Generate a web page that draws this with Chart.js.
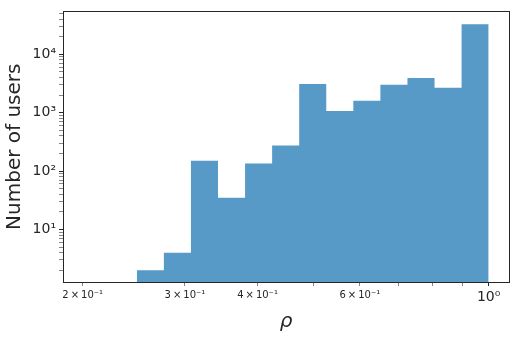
<!DOCTYPE html>
<html lang="en">
<head>
<meta charset="UTF-8">
<title>Number of users by rho</title>
<script src="https://cdn.jsdelivr.net/npm/chart.js@4.4.0/dist/chart.umd.min.js"></script>
<style>
  html, body { margin: 0; padding: 0; background: #fff; }
  canvas { display: block; }
</style>
</head>
<body>
<canvas id="myChart" width="519" height="338"></canvas>
<script>
  // bin edges (log spaced), one more than the counts
  const binEdges = [0.24787, 0.27595, 0.30720, 0.34200, 0.38074, 0.42386, 0.47187,
                    0.52532, 0.58482, 0.65105, 0.72480, 0.80689, 0.89829, 1.0];
  const userCounts = [2, 4, 150, 35, 134, 273, 3100, 1070, 1590, 2990, 3930, 2660, 32700];

  const xTickValues = [0.2, 0.3, 0.4, 0.5, 0.6, 0.7, 0.8, 0.9, 1.0];
  const xTickLabels = { 0.2: '2\u2009×\u200910⁻¹', 0.3: '3\u2009×\u200910⁻¹', 0.4: '4\u2009×\u200910⁻¹', 0.6: '6\u2009×\u200910⁻¹', 1: '10⁰' };
  const yMajorValues = [10, 100, 1000, 10000];
  const yMajorLabels = ['10¹', '10²', '10³', '10⁴'];

  const ink = '#262626';
  const barColor = 'rgb(87,153,199)';

  // step outline: point i at the left edge of bin i, last point closes the last bin
  const points = userCounts.map((c, i) => ({ x: binEdges[i], y: c }));
  points.push({ x: binEdges[binEdges.length - 1], y: userCounts[userCounts.length - 1] });

  // minor ticks 2..9 in each decade shown
  const yTickValues = [];
  [1, 10, 100, 1000, 10000].forEach(d => {
    for (let m = 1; m <= 9; m++) {
      const v = m * d;
      if (v >= 1.3 && v <= 54000) yTickValues.push(v);
    }
  });

  const isMajor = v => Math.abs(Math.log10(v) - Math.round(Math.log10(v))) < 1e-9;

  const framePlugin = {
    id: 'frame',
    afterDraw(chart) {
      const a = chart.chartArea, c = chart.ctx;
      c.save();
      c.strokeStyle = ink;
      c.lineWidth = 1;
      c.strokeRect(Math.round(a.left) + 0.5, Math.round(a.top) + 0.5,
                   Math.round(a.right - a.left), Math.round(a.bottom - a.top));
      c.restore();
    }
  };

  const ctx = document.getElementById('myChart').getContext('2d');
  new Chart(ctx, {
    type: 'line',
    data: {
      datasets: [{
        data: points,
        stepped: 'before',
        fill: 'start',
        backgroundColor: barColor,
        borderColor: barColor,
        borderWidth: 0,
        pointRadius: 0,
        tension: 0
      }]
    },
    options: {
      responsive: false,
      animation: false,
      layout: { padding: { top: 10, right: 10, left: 0, bottom: 0 } },
      plugins: { legend: { display: false }, tooltip: { enabled: false } },
      scales: {
        x: {
          type: 'logarithmic',
          min: 0.185,
          max: 1.084,
          afterBuildTicks: axis => { axis.ticks = xTickValues.map(v => ({ value: v })); },
          afterFit: s => { s.height = 56; },
          border: { display: false },
          grid: {
            drawOnChartArea: false,
            drawTicks: true,
            tickLength: 4,
            tickColor: c => isMajor(c.tick.value) ? ink : '#666',
            tickWidth: c => isMajor(c.tick.value) ? 1 : 0.8
          },
          ticks: {
            autoSkip: false,
            maxRotation: 0,
            padding: 3,
            color: ink,
            font: c => ({ family: 'DejaVu Sans', size: (c.tick && c.tick.value === 1) ? 14 : 10 }),
            callback: v => {
              const k = Math.round(v * 10) / 10;
              return (Math.abs(v - k) < 1e-9 && xTickLabels[k]) ? xTickLabels[k] : '';
            }
          },
          title: {
            display: true,
            text: 'ρ',
            color: ink,
            font: { family: 'DejaVu Sans', size: 20, style: 'italic' },
            padding: { top: 0, bottom: 4 }
          }
        },
        y: {
          type: 'logarithmic',
          min: 1.26,
          max: 54000,
          afterBuildTicks: axis => { axis.ticks = yTickValues.map(v => ({ value: v })); },
          afterFit: s => { s.width = 63; },
          border: { display: false },
          grid: {
            drawOnChartArea: false,
            drawTicks: true,
            tickLength: 4,
            tickColor: c => isMajor(c.tick.value) ? ink : '#666',
            tickWidth: c => isMajor(c.tick.value) ? 1 : 0.8
          },
          ticks: {
            autoSkip: false,
            padding: 3,
            color: ink,
            font: { family: 'DejaVu Sans', size: 14 },
            callback: v => {
              const i = yMajorValues.indexOf(v);
              return i >= 0 ? yMajorLabels[i] : '';
            }
          },
          title: {
            display: true,
            text: 'Number of users',
            color: ink,
            font: { family: 'DejaVu Sans', size: 20 },
            padding: { top: 3, bottom: 0 }
          }
        }
      }
    },
    plugins: [framePlugin]
  });
</script>
</body>
</html>
